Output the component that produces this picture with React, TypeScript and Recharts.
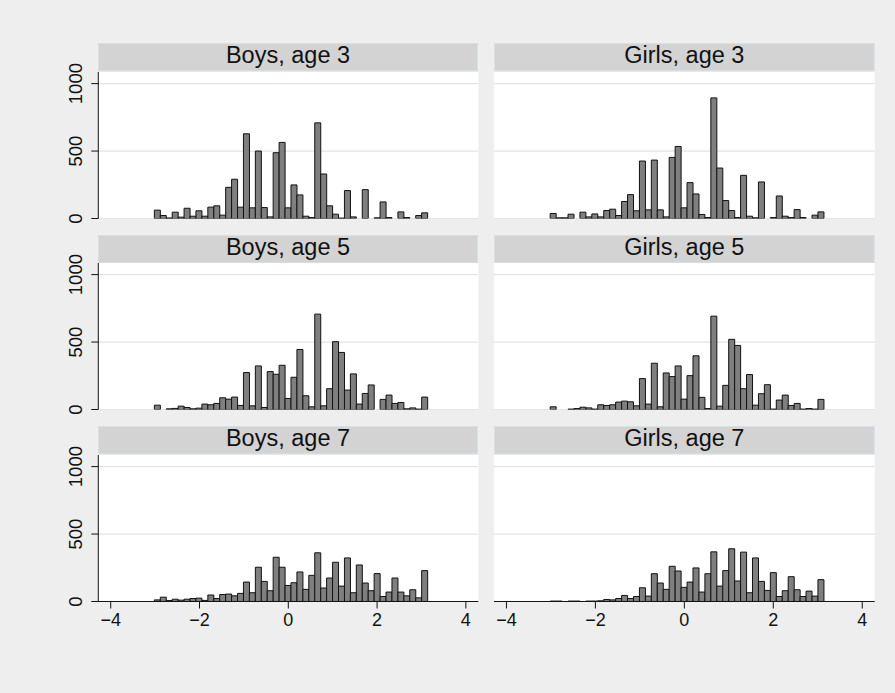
import React from 'react';
import { BarChart, Bar, XAxis, YAxis, CartesianGrid } from 'recharts';

// Bin centres (standardised score) shared by all panels
const binCenters = [
  -2.95, -2.8162, -2.6824, -2.5486, -2.4148, -2.281, -2.1472, -2.0134, -1.8796, -1.7458,
  -1.612, -1.4782, -1.3444, -1.2106, -1.0768, -0.943, -0.8092, -0.6754, -0.5416, -0.4078,
  -0.274, -0.1402, -0.0064, 0.1274, 0.2612, 0.395, 0.5288, 0.6626, 0.7964, 0.9302,
  1.064, 1.1978, 1.3316, 1.4654, 1.5992, 1.733, 1.8668, 2.0006, 2.1344, 2.2682,
  2.402, 2.5358, 2.6696, 2.8034, 2.9372, 3.071,
];

const boysAge3 = [62, 22, 4, 47, 10, 76, 17, 57, 17, 84, 94, 25, 231, 291, 84, 628, 79, 500, 81, 12, 488, 564, 79, 249, 175, 17, 7, 709, 330, 94, 32, 3, 207, 12, 0, 214, 0, 5, 123, 7, 0, 49, 7, 0, 22, 42];
const girlsAge3 = [37, 5, 5, 32, 0, 47, 12, 34, 12, 59, 69, 22, 126, 177, 57, 426, 64, 433, 64, 12, 453, 534, 79, 266, 182, 30, 7, 894, 374, 133, 59, 7, 320, 17, 5, 271, 0, 7, 167, 17, 7, 66, 7, 0, 25, 49];
const boysAge5 = [32, 0, 5, 8, 25, 15, 5, 10, 40, 35, 45, 87, 77, 92, 30, 274, 27, 323, 15, 281, 261, 328, 82, 239, 445, 102, 20, 707, 27, 154, 503, 423, 144, 264, 40, 119, 182, 0, 75, 107, 45, 52, 5, 12, 3, 92];
const girlsAge5 = [20, 0, 0, 3, 7, 17, 12, 3, 35, 30, 35, 55, 62, 57, 27, 229, 40, 343, 20, 271, 244, 323, 77, 251, 398, 90, 7, 692, 25, 179, 520, 475, 154, 259, 32, 117, 184, 3, 70, 107, 30, 45, 3, 7, 3, 75];
const boysAge7 = [12, 32, 7, 17, 10, 17, 22, 25, 8, 48, 22, 52, 55, 42, 60, 144, 65, 254, 149, 80, 328, 254, 119, 139, 219, 90, 194, 361, 100, 174, 291, 114, 323, 65, 271, 137, 80, 207, 37, 70, 174, 70, 42, 87, 27, 229];
const girlsAge7 = [3, 3, 0, 3, 3, 0, 3, 3, 5, 15, 12, 22, 45, 22, 37, 102, 40, 206, 137, 90, 261, 226, 105, 144, 249, 70, 206, 368, 114, 229, 391, 152, 366, 65, 323, 149, 82, 214, 37, 80, 184, 87, 37, 77, 40, 162];

const panelTitles = ['Boys, age 3', 'Girls, age 3', 'Boys, age 5', 'Girls, age 5', 'Boys, age 7', 'Girls, age 7'];
const panelSeries = [boysAge3, girlsAge3, boysAge5, girlsAge5, boysAge7, girlsAge7];

const xTicks = [-4, -2, 0, 2, 4];
const yTicks = [0, 500, 1000];
const xDomain = [-4.28, 4.28];
const yDomain = [0, 1086];

const FONT = '"Liberation Sans", Arial, Helvetica, sans-serif';
const COLS = [
  { plotLeft: 98.3, plotWidth: 380 },
  { plotLeft: 494.3, plotWidth: 380.7 },
];
const ROW_TOPS = [71.7, 263.2, 454.7];
const PLOT_H = 146.5;
const TITLE_H = 28.4;
const X_AXIS_H = 45;

const fmt = (v: number) => (v < 0 ? '\u2212' + Math.abs(v) : String(v));

const YTick = (props: any) => {
  const { x, y, payload } = props;
  return (
    <text
      x={x}
      y={y}
      transform={`rotate(-90, ${x}, ${y})`}
      textAnchor="middle"
      fontSize={18.5}
      fontFamily={FONT}
      fill="#111"
    >
      {payload.value}
    </text>
  );
};

const XTick = (props: any) => {
  const { x, y, payload } = props;
  return (
    <text x={x} y={y} dy="0.71em" textAnchor="middle" fontSize={18} fontFamily={FONT} fill="#111">
      {fmt(payload.value)}
    </text>
  );
};

function Panel({ idx }: { idx: number }) {
  const col = idx % 2;
  const row = Math.floor(idx / 2);
  const { plotLeft, plotWidth } = COLS[col];
  const top = ROW_TOPS[row];
  const showY = col === 0;
  const showX = row === 2;
  const yAxisW = showY ? plotLeft : 0;
  const chartLeft = showY ? 0 : plotLeft;
  const chartW = plotWidth + yAxisW;
  const chartH = PLOT_H + (showX ? X_AXIS_H : 0);
  const data = binCenters.map((x, i) => ({ x, count: panelSeries[idx][i] }));

  return (
    <>
      <svg
        style={{ position: 'absolute', left: plotLeft, top: top - TITLE_H, overflow: 'visible' }}
        width={plotWidth}
        height={TITLE_H}
      >
        <rect x={0.5} y={0.5} width={plotWidth - 1} height={TITLE_H - 1} fill="#d3d3d3" stroke="#d6e1e7" strokeWidth={1} />
        <text
          x={plotWidth / 2}
          y={20}
          textAnchor="middle"
          fontSize={23.5}
          fontFamily={FONT}
          fill="#111"
        >
          {panelTitles[idx]}
        </text>
      </svg>
      <div style={{ position: 'absolute', left: chartLeft, top, width: chartW, height: chartH }}>
        <BarChart
          width={chartW}
          height={chartH}
          data={data}
          margin={{ top: 0, right: 0, bottom: 0, left: 0 }}
          barCategoryGap={0}
          barGap={0}
          style={{ overflow: 'visible' }}
        >
          <CartesianGrid
            vertical={false}
            horizontalValues={yTicks}
            stroke="#e4e4e4"
            strokeWidth={1.2}
            fill="#ffffff"
            fillOpacity={1}
          />
          <XAxis
            dataKey="x"
            type="number"
            domain={xDomain}
            ticks={xTicks}
            interval={0}
            allowDataOverflow
            hide={!showX}
            height={X_AXIS_H}
            tickSize={7}
            tickMargin={5}
            axisLine={{ stroke: '#111', strokeWidth: 1 }}
            tickLine={{ stroke: '#111', strokeWidth: 1 }}
            tick={<XTick />}
          />
          <YAxis
            type="number"
            domain={yDomain}
            ticks={yTicks}
            interval={0}
            allowDataOverflow
            hide={!showY}
            width={yAxisW || 1}
            tickSize={7}
            tickMargin={9}
            axisLine={{ stroke: '#111', strokeWidth: 1 }}
            tickLine={{ stroke: '#111', strokeWidth: 1 }}
            tick={<YTick />}
          />
          <Bar dataKey="count" fill="#7f7f7f" stroke="#111" strokeWidth={1} isAnimationActive={false} />
        </BarChart>
      </div>
    </>
  );
}

export default function App() {
  return (
    <div
      style={{
        position: 'absolute',
        left: 0,
        top: 0,
        width: 895,
        height: 693,
        background: '#eeeeee',
        overflow: 'hidden',
      }}
    >
      <style>{`.recharts-surface, .recharts-wrapper { overflow: visible !important; }`}</style>
      {panelTitles.map((_, i) => (
        <Panel key={i} idx={i} />
      ))}
    </div>
  );
}
